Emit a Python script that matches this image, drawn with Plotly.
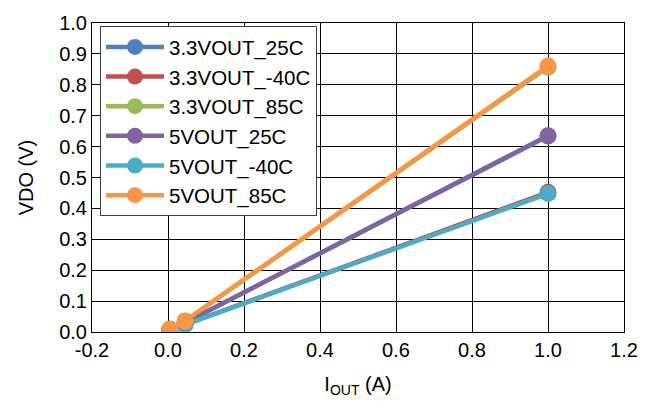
import plotly.graph_objects as go

x_vals = [0.005, 0.045, 1.0]
series_names = ["3.3VOUT_25C", "3.3VOUT_-40C", "3.3VOUT_85C", "5VOUT_25C", "5VOUT_-40C", "5VOUT_85C"]
y_33_25 = [0.008, 0.030, 0.634]
y_33_m40 = [0.006, 0.024, 0.452]
y_33_85 = [0.009, 0.035, 0.857]
y_5_25 = [0.008, 0.030, 0.635]
y_5_m40 = [0.006, 0.024, 0.448]
y_5_85 = [0.010, 0.036, 0.861]
colors = ["#4F81BD", "#C0504D", "#9BBB59", "#8064A2", "#4BACC6", "#F79646"]
x_ticks = [-0.2, 0.0, 0.2, 0.4, 0.6, 0.8, 1.0, 1.2]
y_ticks = [0.0, 0.1, 0.2, 0.3, 0.4, 0.5, 0.6, 0.7, 0.8, 0.9, 1.0]

all_y = [y_33_25, y_33_m40, y_33_85, y_5_25, y_5_m40, y_5_85]

fig = go.Figure()
for name, ys, c in zip(series_names, all_y, colors):
    fig.add_trace(go.Scatter(
        x=x_vals, y=ys, name=name, mode="lines+markers",
        line=dict(color=c, width=4.5),
        marker=dict(color=c, size=17),
    ))

FS = 20
LFS = 20.5
font_family = "Liberation Sans, Arial, sans-serif"
fig.update_layout(
    width=638, height=396,
    margin=dict(l=84, r=22, t=15, b=72, autoexpand=False),
    paper_bgcolor="white", plot_bgcolor="white",
    font=dict(family=font_family, size=FS, color="black"),
    showlegend=True,
    legend=dict(
        x=0.015, y=0.99, xanchor="left", yanchor="top",
        bgcolor="white", bordercolor="#404040", borderwidth=1,
        font=dict(size=LFS), itemwidth=58, entrywidth=158,
    ),
    xaxis=dict(
        range=[-0.2, 1.2], tickvals=x_ticks,
        ticktext=[f"{v:.1f}" for v in x_ticks],
        showgrid=True, gridcolor="black", gridwidth=1,
        zeroline=False, showline=True, linecolor="black", linewidth=1, mirror=True,
        ticks="", tickfont=dict(size=FS), automargin=False,
        title=dict(text="I<sub>OUT</sub> (A)", font=dict(size=FS), standoff=16),
    ),
    yaxis=dict(
        range=[0, 1.0], tickvals=y_ticks,
        ticktext=[f"{v:.1f}" for v in y_ticks],
        showgrid=True, gridcolor="black", gridwidth=1,
        zeroline=False, showline=True, linecolor="black", linewidth=1, mirror=True,
        ticks="", tickfont=dict(size=FS), automargin=False,
        title=dict(text="VDO (V)", font=dict(size=FS), standoff=20),
    ),
)

fig.write_html("out.html")
